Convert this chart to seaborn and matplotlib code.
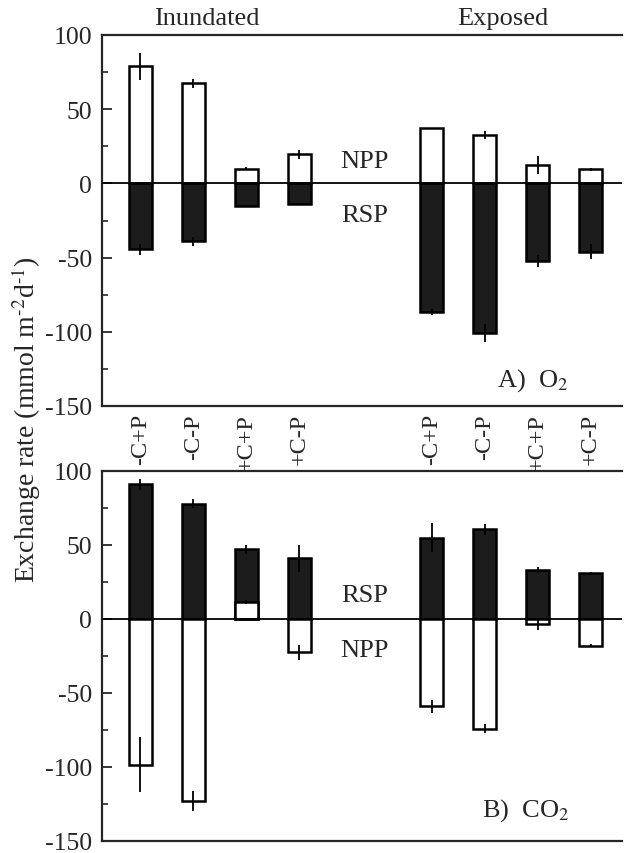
import numpy as np
import pandas as pd
import matplotlib
matplotlib.use('Agg')
import matplotlib.pyplot as plt
import seaborn as sns
from matplotlib.ticker import MultipleLocator

# ---- data ----
treatments = ['-C+P', '-C-P', '+C+P', '+C-P', '-C+P', '-C-P', '+C+P', '+C-P']
sites = ['Inundated'] * 4 + ['Exposed'] * 4
positions = [0, 1, 2, 3, 5.5, 6.5, 7.5, 8.5]

o2_npp = [79, 67.5, 10, 19.5, 37, 32.5, 12.5, 9.5]
o2_npp_err = [9, 3, 1, 3, 0.5, 2.5, 6, 1]
o2_rsp = [-44.5, -39, -15.5, -14, -86.5, -101, -52, -46]
o2_rsp_err = [3.5, 3, 0.5, 0.5, 2, 6, 4, 5]

co2_rsp = [91, 78, 47, 41, 55, 60.5, 33, 31]
co2_rsp_err = [3.5, 3, 3, 9, 10, 3.5, 2, 1]
co2_npp = [-98.5, -123, 11.5, -22.5, -59, -74, -3.5, -18]
co2_npp_err = [18.5, 6.5, 1.5, 5, 4.5, 3, 4, 1]

ytick_vals = [100, 50, 0, -50, -100, -150]
ytick_labels = ['100', '50', '0', '-50', '-100', '-150']

sns.set_style('ticks')
plt.rcParams['font.family'] = ['Liberation Serif', 'DejaVu Serif']
plt.rcParams['mathtext.fontset'] = 'stix'

W, H = 624, 854
fig = plt.figure(figsize=(W / 100, H / 100), dpi=100)

def frac_ax(left, top, right, bottom):
    return fig.add_axes([left / W, 1 - bottom / H, (right - left) / W, (bottom - top) / H])

axA = frac_ax(102, 36, 622, 407)
axB = frac_ax(102, 472, 622, 842)

BLACK = '#1c1c1c'

def draw_panel(ax, black_vals, black_err, white_vals, white_err):
    dfb = pd.DataFrame({'pos': positions, 'val': black_vals})
    dfw = pd.DataFrame({'pos': positions, 'val': white_vals})
    sns.barplot(data=dfb, x='pos', y='val', native_scale=True, width=0.43,
                color=BLACK, edgecolor='black', linewidth=1.8, saturation=1,
                errorbar=None, ax=ax)
    sns.barplot(data=dfw, x='pos', y='val', native_scale=True, width=0.43,
                color='white', edgecolor='black', linewidth=1.8, saturation=1,
                errorbar=None, ax=ax)
    ax.errorbar(positions, black_vals, yerr=black_err, fmt='none',
                ecolor='black', elinewidth=1.3, capsize=0, zorder=5)
    ax.errorbar(positions, white_vals, yerr=white_err, fmt='none',
                ecolor='black', elinewidth=1.3, capsize=0, zorder=5)
    ax.axhline(0, color='black', lw=1.3, zorder=4)
    ax.set_xlim(-0.72, 9.09)
    ax.set_ylim(-150, 100)
    ax.set_yticks(ytick_vals)
    ax.set_yticklabels(ytick_labels)
    ax.yaxis.set_minor_locator(MultipleLocator(25))
    ax.tick_params(axis='y', which='major', direction='in', length=7.5, width=1.3,
                   labelsize=18.5, pad=7)
    ax.tick_params(axis='y', which='minor', direction='in', length=4.5, width=1.2)
    ax.spines['right'].set_visible(False)
    for s in ['left', 'top', 'bottom']:
        ax.spines[s].set_linewidth(1.6)
    ax.set_xlabel('')
    ax.set_ylabel('')

# Panel A: O2 — RSP (black, negative), NPP (white, positive)
draw_panel(axA, o2_rsp, o2_rsp_err, o2_npp, o2_npp_err)
axA.set_xticks(positions)
axA.set_xticklabels(treatments, rotation=90, fontsize=17.5)
axA.tick_params(axis='x', length=0, pad=5)
axA.text(4.23, 15, 'NPP', ha='center', va='center', fontsize=19)
axA.text(4.23, -21, 'RSP', ha='center', va='center', fontsize=19)
axA.text(6.74, -132, 'A)  O$_2$', ha='left', va='center', fontsize=19)

# Panel B: CO2 — RSP (black, positive), NPP (white)
draw_panel(axB, co2_rsp, co2_rsp_err, co2_npp, co2_npp_err)
axB.set_xticks([])
axB.text(4.23, 16.4, 'RSP', ha='center', va='center', fontsize=19)
axB.text(4.23, -21, 'NPP', ha='center', va='center', fontsize=19)
axB.text(6.45, -128.5, 'B)  CO$_2$', ha='left', va='center', fontsize=19)

fig.text(207 / W, 1 - 19 / H, 'Inundated', ha='center', va='center', fontsize=19)
fig.text(503 / W, 1 - 19 / H, 'Exposed', ha='center', va='center', fontsize=19)
fig.text(26 / W, 1 - 420 / H, r'Exchange rate (mmol m$^{\text{-}2}$d$^{\text{-}1}$)',
         rotation=90, ha='center', va='center', fontsize=20)

fig.savefig('out.png', dpi=100, facecolor='white')
